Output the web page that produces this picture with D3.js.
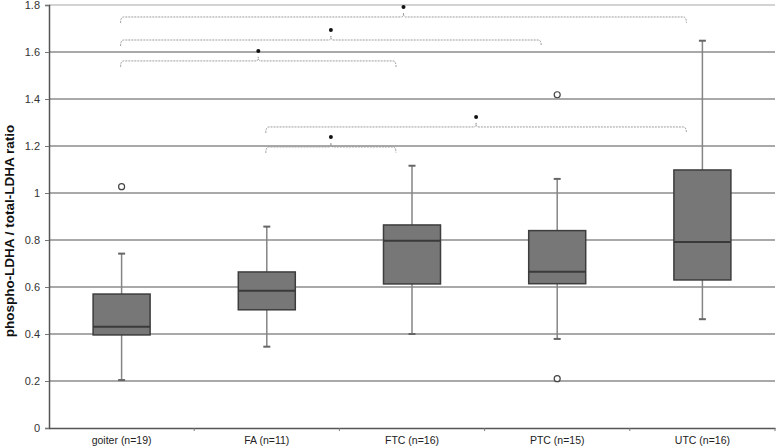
<!DOCTYPE html>
<html>
<head>
<meta charset="utf-8">
<script src="https://cdn.jsdelivr.net/npm/d3@7"></script>
<style>
  body { margin: 0; background: #fff; }
  text { font-family: "Liberation Sans", Arial, sans-serif; }
</style>
</head>
<body>
<div id="chart"></div>
<script>
// categories and box stats
var groups = ["goiter (n=19)", "FA (n=11)", "FTC (n=16)", "PTC (n=15)", "UTC (n=16)"];
var whiskerLow  = [0.204, 0.346, 0.400, 0.379, 0.463];
var q1          = [0.396, 0.503, 0.613, 0.614, 0.630];
var median      = [0.431, 0.584, 0.797, 0.665, 0.791];
var q3          = [0.570, 0.664, 0.864, 0.840, 1.098];
var whiskerHigh = [0.742, 0.857, 1.116, 1.060, 1.648];
var outliers = [
  [0, 1.027],
  [3, 1.418],
  [3, 0.210]
];
// significance brackets: [from group, to group, height]
var brackets = [
  [0, 4, 1.749],
  [0, 3, 1.651],
  [0, 2, 1.562],
  [1, 4, 1.281],
  [1, 2, 1.196]
];
var yTicks = [0, 0.2, 0.4, 0.6, 0.8, 1, 1.2, 1.4, 1.6, 1.8];

var margin = {top: 5, right: 3, bottom: 20, left: 49};
var width = 778 - margin.left - margin.right;

var svg = d3.select("#chart").append("svg")
  .attr("width", 778)
  .attr("height", 448)
  .append("g")
  .attr("transform", "translate(" + margin.left + "," + margin.top + ")");

var x = d3.scaleBand()
  .domain(groups)
  .range([0, width]);

var y = d3.scaleLinear()
  .domain([0, 1.8])
  .range([423, 0]);

var boxW = 57;
function cx(i) { return x(groups[i]) + x.bandwidth() / 2; }

// gridlines
svg.selectAll(".grid")
  .data(yTicks.slice(1))
  .enter()
  .append("line")
  .attr("x1", 0)
  .attr("x2", width)
  .attr("y1", function(d) { return y(d); })
  .attr("y2", function(d) { return y(d); })
  .attr("stroke", function(d) { return d === 1.8 ? "#c4c4c4" : "#8c8c8c"; })
  .attr("stroke-width", 1.5);

// y axis
var yAxis = svg.append("g")
  .call(d3.axisLeft(y).tickValues(yTicks).tickFormat(d3.format("")).tickSize(4).tickPadding(5));
yAxis.select(".domain").attr("stroke", "#555").attr("stroke-width", 1.5);
yAxis.selectAll(".tick line").attr("stroke", "#777");
yAxis.selectAll("text").attr("font-size", 11).attr("fill", "#333");

// x axis
var xAxis = svg.append("g")
  .attr("transform", "translate(0," + y(0) + ")")
  .call(d3.axisBottom(x).tickSize(0).tickPadding(9));
xAxis.select(".domain").attr("stroke", "#555").attr("stroke-width", 1.5);
xAxis.selectAll("text").attr("font-size", 10.5).attr("fill", "#222");

svg.selectAll(".xsep")
  .data(groups.slice(1).concat(["end"]))
  .enter()
  .append("line")
  .attr("x1", function(d, i) { return x.step() * (i + 1); })
  .attr("x2", function(d, i) { return x.step() * (i + 1); })
  .attr("y1", y(0))
  .attr("y2", y(0) + 3)
  .attr("stroke", "#777");

// whiskers
svg.selectAll(".whisker")
  .data(groups)
  .enter()
  .append("line")
  .attr("x1", function(d, i) { return cx(i); })
  .attr("x2", function(d, i) { return cx(i); })
  .attr("y1", function(d, i) { return y(whiskerLow[i]); })
  .attr("y2", function(d, i) { return y(whiskerHigh[i]); })
  .attr("stroke", "#858585")
  .attr("stroke-width", 1.5);

var caps = whiskerLow.map(function(v, i) { return [i, v]; })
  .concat(whiskerHigh.map(function(v, i) { return [i, v]; }));
svg.selectAll(".cap")
  .data(caps)
  .enter()
  .append("line")
  .attr("x1", function(d) { return cx(d[0]) - 3.5; })
  .attr("x2", function(d) { return cx(d[0]) + 3.5; })
  .attr("y1", function(d) { return y(d[1]); })
  .attr("y2", function(d) { return y(d[1]); })
  .attr("stroke", "#666")
  .attr("stroke-width", 2);

// boxes
svg.selectAll(".box")
  .data(groups)
  .enter()
  .append("rect")
  .attr("x", function(d, i) { return cx(i) - boxW / 2; })
  .attr("y", function(d, i) { return y(q3[i]); })
  .attr("width", boxW)
  .attr("height", function(d, i) { return y(q1[i]) - y(q3[i]); })
  .attr("fill", "#777777")
  .attr("stroke", "#3d3d3d")
  .attr("stroke-width", 1.5);

svg.selectAll(".median")
  .data(groups)
  .enter()
  .append("line")
  .attr("x1", function(d, i) { return cx(i) - boxW / 2; })
  .attr("x2", function(d, i) { return cx(i) + boxW / 2; })
  .attr("y1", function(d, i) { return y(median[i]); })
  .attr("y2", function(d, i) { return y(median[i]); })
  .attr("stroke", "#3a3a3a")
  .attr("stroke-width", 2);

// outliers
svg.selectAll(".outlier")
  .data(outliers)
  .enter()
  .append("circle")
  .attr("cx", function(d) { return cx(d[0]); })
  .attr("cy", function(d) { return y(d[1]); })
  .attr("r", 3)
  .attr("fill", "#fff")
  .attr("stroke", "#444")
  .attr("stroke-width", 1.2);

// significance brackets
var endShift = 16;
svg.selectAll(".bracket")
  .data(brackets)
  .enter()
  .append("path")
  .attr("d", function(d) {
    var x1 = cx(d[0]) - 1, x2 = cx(d[1]) - endShift, yy = y(d[2]);
    var m = (x1 + x2) / 2;
    return "M" + x1 + "," + (yy + 6) +
      "Q" + x1 + "," + yy + " " + (x1 + 3) + "," + yy +
      "L" + (m - 2) + "," + yy +
      "Q" + m + "," + yy + " " + m + "," + (yy - 4) +
      "Q" + m + "," + yy + " " + (m + 2) + "," + yy +
      "L" + (x2 - 3) + "," + yy +
      "Q" + x2 + "," + yy + " " + x2 + "," + (yy + 6);
  })
  .attr("fill", "none")
  .attr("stroke", "#9d9d9d")
  .attr("stroke-width", 1)
  .attr("stroke-dasharray", "2,1");

svg.selectAll(".star")
  .data(brackets)
  .enter()
  .append("circle")
  .attr("cx", function(d) { return (cx(d[0]) - 1 + cx(d[1]) - endShift) / 2; })
  .attr("cy", function(d) { return y(d[2]) - 10; })
  .attr("r", 2)
  .attr("fill", "#111");

// y title
svg.append("text")
  .attr("transform", "translate(" + (-35) + "," + 226 + ") rotate(-90)")
  .attr("text-anchor", "middle")
  .attr("font-size", 13.5)
  .attr("font-weight", "bold")
  .attr("fill", "#111")
  .text("phospho-LDHA / total-LDHA ratio");
</script>
</body>
</html>
